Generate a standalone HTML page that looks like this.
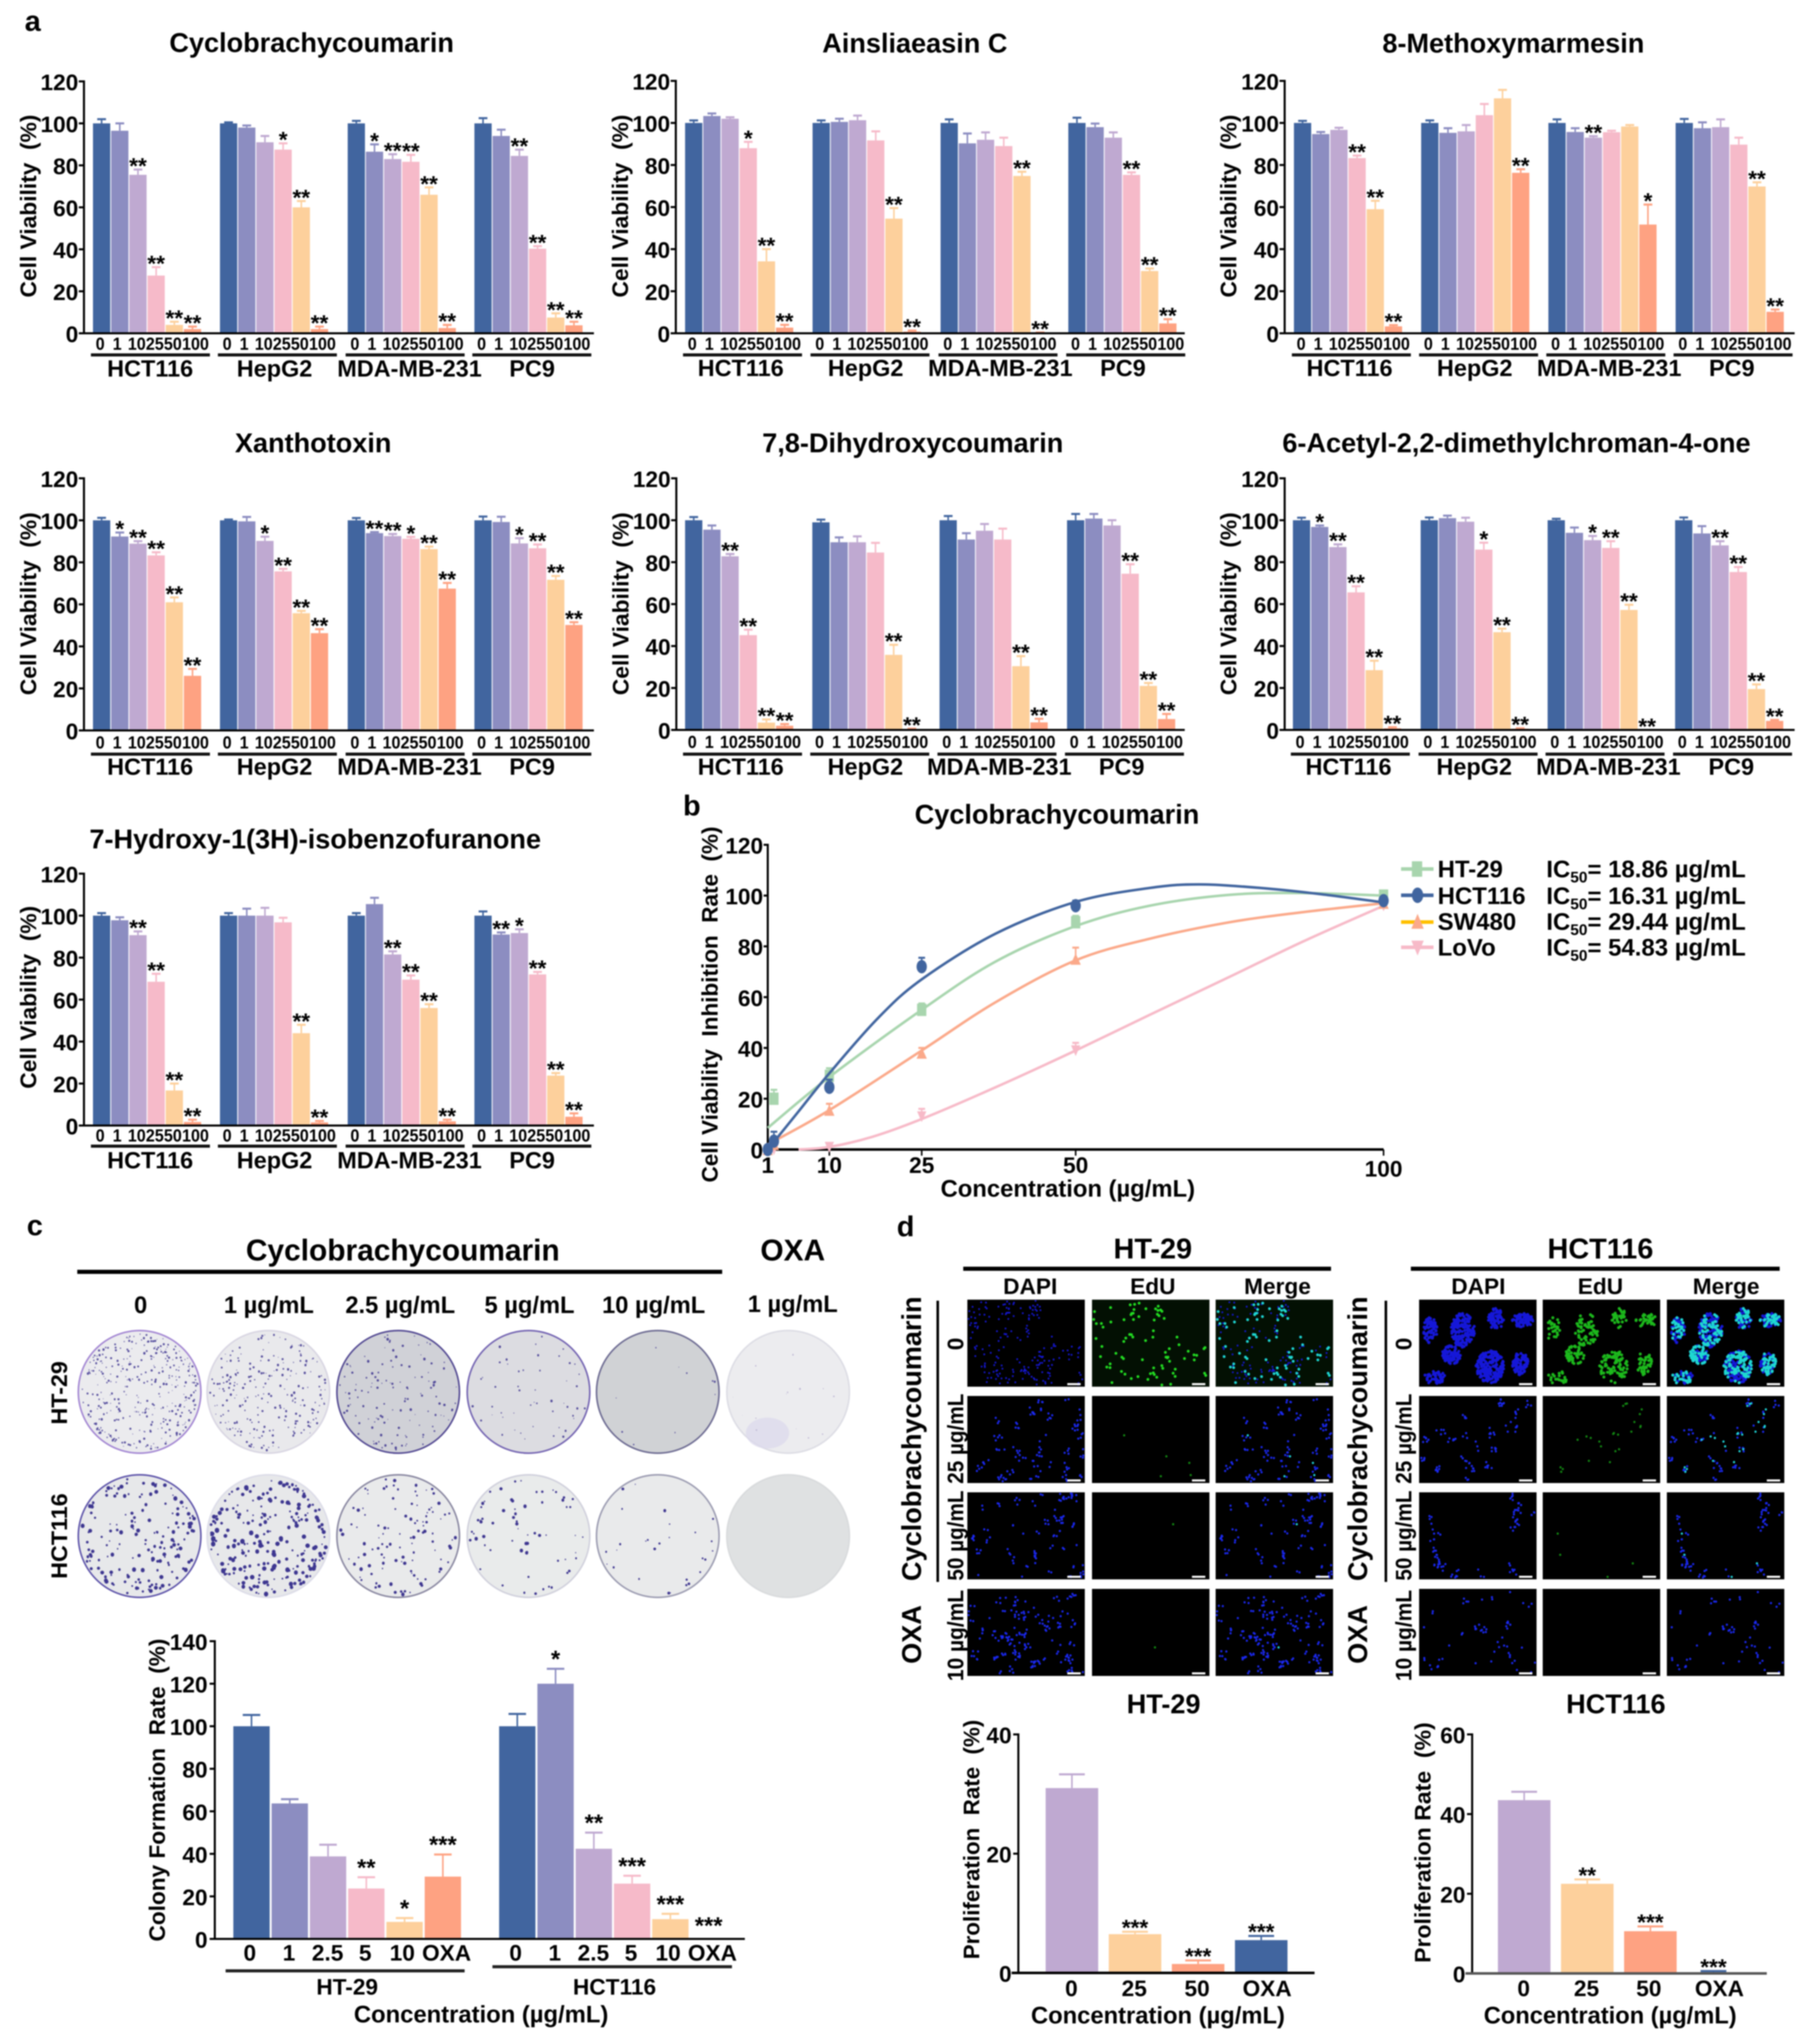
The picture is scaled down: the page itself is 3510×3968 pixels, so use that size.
<!DOCTYPE html>
<html lang="en">
<head>
<meta charset="utf-8">
<title>Cyclobrachycoumarin figure</title>
<style>
html,body{margin:0;padding:0;background:#fff;}
#figure{display:block;filter:blur(1.2px);}
text{font-family:"Liberation Sans",Arial,sans-serif;font-weight:bold;fill:#000;}
.letter{font-size:56px;}
.title{font-size:52.6px;text-anchor:middle;}
.title58{font-size:58px;text-anchor:middle;}
.title56{font-size:56px;text-anchor:middle;}
.axt{font-size:44px;text-anchor:middle;white-space:pre;}
.lab46{font-size:46.5px;}
.mid46{font-size:46px;text-anchor:middle;}
.mid44{font-size:44px;text-anchor:middle;}
.sub{font-size:30px;}
</style>
</head>
<body>
<svg id="figure" xmlns="http://www.w3.org/2000/svg" width="3510" height="3968" viewBox="0 0 3510 3968">
<rect width="3510" height="3968" fill="#fff"/>

<text class="letter" x="48" y="60">a</text>
<text class="letter" x="1326" y="1583">b</text>
<text class="letter" x="52" y="2398">c</text>
<text class="letter" x="1741" y="2400">d</text>

<text class="title" x="605" y="101">Cyclobrachycoumarin</text>
<text class="title" x="1776" y="102">Ainsliaeasin C</text>
<text class="title" x="2938" y="102">8-Methoxymarmesin</text>
<text class="title" x="608" y="878">Xanthotoxin</text>
<text class="title" x="1772" y="878">7,8-Dihydroxycoumarin</text>
<text class="title" x="2944" y="878">6-Acetyl-2,2-dimethylchroman-4-one</text>
<text class="title" x="612" y="1647">7-Hydroxy-1(3H)-isobenzofuranone</text>

<text class="axt" transform="rotate(-90 70 400)" x="70" y="400" textLength="355" lengthAdjust="spacingAndGlyphs">Cell Viability  (%)</text>
<text class="axt" transform="rotate(-90 1219 400)" x="1219" y="400" textLength="355" lengthAdjust="spacingAndGlyphs">Cell Viability  (%)</text>
<text class="axt" transform="rotate(-90 2400 400)" x="2400" y="400" textLength="355" lengthAdjust="spacingAndGlyphs">Cell Viability  (%)</text>
<text class="axt" transform="rotate(-90 70 1172)" x="70" y="1172" textLength="355" lengthAdjust="spacingAndGlyphs">Cell Viability  (%)</text>
<text class="axt" transform="rotate(-90 1220 1172)" x="1220" y="1172" textLength="355" lengthAdjust="spacingAndGlyphs">Cell Viability  (%)</text>
<text class="axt" transform="rotate(-90 2400 1172)" x="2400" y="1172" textLength="355" lengthAdjust="spacingAndGlyphs">Cell Viability  (%)</text>
<text class="axt" transform="rotate(-90 70 1936)" x="70" y="1936" textLength="355" lengthAdjust="spacingAndGlyphs">Cell Viability  (%)</text>

<g id="viability-charts"></g>

<text class="title" x="2052" y="1599">Cyclobrachycoumarin</text>
<text class="axt" transform="rotate(-90 1393 1950)" x="1393" y="1950" textLength="691" lengthAdjust="spacingAndGlyphs">Cell Viability  Inhibition  Rate  (%)</text>
<text class="mid46" x="2073" y="2323" textLength="494" lengthAdjust="spacingAndGlyphs">Concentration (µg/mL)</text>
<g id="curve-chart"></g>

<g>
<line x1="2720" y1="1687" x2="2783" y2="1687" stroke="#a8d5ae" stroke-width="7"/>
<rect x="2741" y="1672" width="20" height="30" fill="#a8d5ae"/>
<line x1="2720" y1="1738" x2="2783" y2="1738" stroke="#41659f" stroke-width="7"/>
<ellipse cx="2752" cy="1738" rx="11" ry="15" fill="#41659f"/>
<line x1="2720" y1="1790" x2="2783" y2="1790" stroke="#ffc000" stroke-width="7"/>
<polygon points="2752,1774 2764,1803 2740,1803" fill="#fba98a"/>
<line x1="2720" y1="1839" x2="2783" y2="1839" stroke="#f7bac8" stroke-width="7"/>
<polygon points="2740,1826 2764,1826 2752,1855" fill="#f7bac8"/>
<text class="lab46" x="2791" y="1703">HT-29</text>
<text class="lab46" x="2791" y="1755">HCT116</text>
<text class="lab46" x="2791" y="1805">SW480</text>
<text class="lab46" x="2791" y="1855">LoVo</text>
<text class="lab46" x="3002" y="1703">IC<tspan class="sub" dy="10">50</tspan><tspan dy="-10">= 18.86 µg/mL</tspan></text>
<text class="lab46" x="3002" y="1755">IC<tspan class="sub" dy="10">50</tspan><tspan dy="-10">= 16.31 µg/mL</tspan></text>
<text class="lab46" x="3002" y="1805">IC<tspan class="sub" dy="10">50</tspan><tspan dy="-10">= 29.44 µg/mL</tspan></text>
<text class="lab46" x="3002" y="1855">IC<tspan class="sub" dy="10">50</tspan><tspan dy="-10">= 54.83 µg/mL</tspan></text>
</g>

<text class="title58" x="782" y="2447">Cyclobrachycoumarin</text>
<rect x="150" y="2465" width="1252" height="8" fill="#000"/>
<text class="title58" x="1539" y="2447">OXA</text>
<text class="mid46" x="273" y="2549">0</text>
<text class="mid46" x="522" y="2549">1 µg/mL</text>
<text class="mid46" x="777" y="2549">2.5 µg/mL</text>
<text class="mid46" x="1028" y="2549">5 µg/mL</text>
<text class="mid46" x="1269" y="2549">10 µg/mL</text>
<text class="mid46" x="1539" y="2547">1 µg/mL</text>
<text class="axt" transform="rotate(-90 130 2704)" x="130" y="2704" textLength="123" lengthAdjust="spacingAndGlyphs">HT-29</text>
<text class="axt" transform="rotate(-90 130 2982)" x="130" y="2982" textLength="166" lengthAdjust="spacingAndGlyphs">HCT116</text>
<g id="colony-plates"></g>

<text class="axt" transform="rotate(-90 320 3475)" x="320" y="3475" textLength="588" lengthAdjust="spacingAndGlyphs">Colony Formation  Rate  (%)</text>
<text class="mid46" x="934" y="3926" textLength="494" lengthAdjust="spacingAndGlyphs">Concentration (µg/mL)</text>
<g id="colony-chart"></g>

<text class="title56" x="2238" y="2443">HT-29</text>
<text class="title56" x="3107" y="2443">HCT116</text>
<rect x="1870" y="2459" width="714" height="8" fill="#000"/>
<rect x="2739" y="2459" width="716" height="8" fill="#000"/>
<text class="mid44" x="2000" y="2512">DAPI</text>
<text class="mid44" x="2238" y="2512">EdU</text>
<text class="mid44" x="2480" y="2512">Merge</text>
<text class="mid44" x="2870" y="2512">DAPI</text>
<text class="mid44" x="3107" y="2512">EdU</text>
<text class="mid44" x="3351" y="2512">Merge</text>
<rect x="1818" y="2525" width="5" height="546" fill="#000"/>
<rect x="2688" y="2525" width="5" height="546" fill="#000"/>
<text class="title" transform="rotate(-90 1788 2793)" x="1788" y="2793">Cyclobrachycoumarin</text>
<text class="title" transform="rotate(-90 2654 2793)" x="2654" y="2793">Cyclobrachycoumarin</text>
<text class="title" transform="rotate(-90 1788 3173)" x="1788" y="3173">OXA</text>
<text class="title" transform="rotate(-90 2654 3173)" x="2654" y="3173">OXA</text>
<text class="mid44" transform="rotate(-90 1870 2609)" x="1870" y="2609">0</text>
<text class="mid44" transform="rotate(-90 1870 2793)" x="1870" y="2793" textLength="175" lengthAdjust="spacingAndGlyphs">25 µg/mL</text>
<text class="mid44" transform="rotate(-90 1870 2981)" x="1870" y="2981" textLength="175" lengthAdjust="spacingAndGlyphs">50 µg/mL</text>
<text class="mid44" transform="rotate(-90 1870 3175)" x="1870" y="3175" textLength="177" lengthAdjust="spacingAndGlyphs">10 µg/mL</text>
<text class="mid44" transform="rotate(-90 2740 2609)" x="2740" y="2609">0</text>
<text class="mid44" transform="rotate(-90 2740 2793)" x="2740" y="2793" textLength="175" lengthAdjust="spacingAndGlyphs">25 µg/mL</text>
<text class="mid44" transform="rotate(-90 2740 2981)" x="2740" y="2981" textLength="175" lengthAdjust="spacingAndGlyphs">50 µg/mL</text>
<text class="mid44" transform="rotate(-90 2740 3175)" x="2740" y="3175" textLength="177" lengthAdjust="spacingAndGlyphs">10 µg/mL</text>
<g id="microscopy"></g>

<text class="title" x="2259" y="3326">HT-29</text>
<text class="title" x="3137" y="3326">HCT116</text>
<text class="axt" transform="rotate(-90 1901 3571)" x="1901" y="3571" textLength="465" lengthAdjust="spacingAndGlyphs">Proliferation  Rate  (%)</text>
<text class="axt" transform="rotate(-90 2777 3577)" x="2777" y="3577" textLength="467" lengthAdjust="spacingAndGlyphs">Proliferation Rate  (%)</text>
<text class="mid46" x="2248" y="3928" textLength="493" lengthAdjust="spacingAndGlyphs">Concentration (µg/mL)</text>
<text class="mid46" x="3126" y="3928" textLength="491" lengthAdjust="spacingAndGlyphs">Concentration (µg/mL)</text>
<g id="proliferation-charts"></g>
</svg>

<script>
/* ---------- shared categories ---------- */
const doseLabels = ['0','1','10','25','50','100'];
const cellLines = ['HCT116','HepG2','MDA-MB-231','PC9'];
const viabilityTicks = [0,20,40,60,80,100,120];
const barColors = ['#41659f','#8c8dc1','#bfa9d1','#f6bac9','#fdd09c','#fea282'];

/* ---------- panel a: values per cell line (six doses each) ---------- */
const cycloValues = [[100,96.5,75.5,27.5,4,2],[100,98,91,87.5,60,2],[100,86.5,83,81.7,66,2.5],[100,94,84.5,40.3,7.5,3.8]];
const cycloUpper = [[102,100,78,31.5,5.5,3.2],[100.5,99,94,90.5,63,3.2],[101.2,90,85.3,85,69.5,4],[102.5,97,87.5,41.5,9.5,5.5]];
const cycloStars = [['','','**','**','**','**'],['','','','*','**','**'],['','*','**','**','**','**'],['','','**','**','**','**']];

const ainsValues = [[100,103.3,102,88,34.2,2.7],[100,100.5,101.3,91.7,54.5,0.8],[100,90.3,92,89,74.8,0.3],[100,98,93,75.3,29.6,4.7]];
const ainsUpper = [[101.2,104.5,102.7,91,40,4],[101.2,102,103.5,96,59.5,1.3],[101.7,95,95.5,93,76.8,0.4],[102.5,99.7,95.5,76.5,30.8,6.7]];
const ainsStars = [['','','','*','**','**'],['','','','','**','**'],['','','','','**','**'],['','','','**','**','**']];

const methoxyValues = [[100,94.7,96.7,83.3,59,3.3],[100,95.3,96,103.7,111.7,76.3],[100,95.7,93,95.6,98.3,51.7],[100,97.5,98,89.7,69.8,10.2]];
const methoxyUpper = [[101,95.7,97.7,84.5,63,3.9],[101.2,97.5,99,109,115.7,78],[101.7,97.5,93.7,96.3,99,61.2],[101.9,100.3,101.7,93,71.8,11.3]];
const methoxyStars = [['','','','**','**','**'],['','','','','','**'],['','','**','','','*'],['','','','','**','**']];

const xanthoValues = [[100,92.3,88.9,83.3,61,26],[100,99.5,90.2,75.7,55.8,46.3],[100,93.9,92.5,91.2,86.3,67.5],[100,99.2,89,86.7,71.7,50.2]];
const xanthoUpper = [[101.2,94.2,90.1,84.8,63.3,29.3],[100.4,101.6,92.2,76.9,56.9,48.2],[101.1,94.4,93.5,92.1,87.5,70.2],[101.8,101.7,91.5,88.5,73.5,51.5]];
const xanthoStars = [['','*','**','**','**','**'],['','','*','**','**','**'],['','**','**','*','**','**'],['','','*','**','**','**']];

const dihydroxyValues = [[100,95.5,82.8,45.2,3.5,2],[99,89.5,89.5,84.6,35.8,0.4],[100,90.8,95,90.8,30.4,3.6],[100,100.8,97.5,74.5,21,5.2]];
const dihydroxyUpper = [[101.5,97.5,83.9,47.8,5,2.8],[100.3,91.8,92.3,89.2,40.6,0.6],[102,93.8,98.2,96,35.2,5.3],[103,103,100,79,22.4,7.6]];
const dihydroxyStars = [['','','**','**','**','**'],['','','','','**','**'],['','','','','**','**'],['','','','**','**','**']];

const acetylValues = [[100,96.8,87.2,65.6,28.5,0.8],[100,101,99.3,86,46.6,0.6],[100,94,90.5,86.8,57.2,0],[100,93.7,88,75.3,19.5,4.3]];
const acetylUpper = [[101.2,97.5,88.5,68.5,33,1.3],[101.3,102.2,101.2,89.3,48.3,0.8],[100.7,96.5,92.5,90,59.7,0],[101.3,97.2,90,77.7,21.7,4.8]];
const acetylStars = [['','*','**','**','**','**'],['','','','*','**','**'],['','','*','**','**','**'],['','','**','**','**','**']];

const hydroxyValues = [[100,97.8,90.7,68.5,16.7,1.7],[100,100,100,96.8,44,1.5],[100,105.5,81.5,69.5,56,2],[100,91,91.7,72,23.8,4.2]];
const hydroxyUpper = [[101.2,99.2,92.5,72.3,20,2.8],[101.2,103.3,103.7,99,48,2.2],[101.2,108.5,83,71.5,57.8,2.8],[102,92,93.5,73.2,25,5.8]];
const hydroxyStars = [['','','**','**','**','**'],['','','','','**','**'],['','','**','**','**','**'],['','**','*','**','**','**']];

/* ---------- panel b ---------- */
const curveTicks = [0,20,40,60,80,100,120];
const curveXTickValues = [0,10,25,50,100];
const curveXTickLabels = ['1','10','25','50','100'];
const ht29Doses = [1,10,25,50,100];
const ht29Means = [20,29,55,89.5,100];
const ht29Upper = [23.5,32,57.5,92,101.5];
const ht29FitX = [0,10,25,37,50,62,75,87,100];
const ht29FitY = [8.5,28.5,55,74,88,96,100.3,101,100];
const hct116Doses = [0,1,10,25,50,100];
const hct116Means = [0,3.3,24.5,72,96,98];
const hct116Upper = [0,7,27.5,75.5,98,99.5];
const hct116FitX = [0,5,10,18,25,37,50,62,70,80,90,100];
const hct116FitY = [0,15,30,52,67,85,97.5,103,104.4,103,100.5,97.3];
const sw480Doses = [0,1,10,25,50,100];
const sw480Means = [0,2,15.5,38,75,97];
const sw480Upper = [0,3,18,40,79.5,97.5];
const sw480FitX = [0,10,25,37,50,62,75,87,100];
const sw480FitY = [2,15.5,39,58,74.5,83,89.5,93.5,97];
const lovoDoses = [1,10,25,50,100];
const lovoMeans = [0,1,13,39,96];
const lovoUpper = [1,2,16,42,96.5];
const lovoFitX = [5,10,17,25,37,50,62,75,87,100];
const lovoFitY = [0,1,5,12,24.5,39,53,68,82,96];

/* ---------- panel c bars ---------- */
const colonyTicks = [0,20,40,60,80,100,120,140];
const colonyDoseLabels = ['0','1','2.5','5','10','OXA'];
const colonyGroups = ['HT-29','HCT116'];
const colonyValues = [[100,63.7,38.8,23.7,8,29.3],[100,120,42.4,26,9.3,0]];
const colonyUpper = [[105.3,65.7,44.3,29,9.8,39.7],[105.8,127,50,29.7,11.8,0]];
const colonyStars = [['','','','**','*','***'],['','*','**','***','***','***']];

/* ---------- panel d bars ---------- */
const proliferationLabels = ['0','25','50','OXA'];
const proliferationColors = ['#bfa9d1','#fdd09c','#fea282','#41659f'];
const prolifHt29Ticks = [0,20,40];
const prolifHt29Values = [31,6.5,1.5,5.5];
const prolifHt29Upper = [33.3,6.9,2.1,6.2];
const prolifHt29Stars = ['','***','***','***'];
const prolifHct116Ticks = [0,20,40,60];
const prolifHct116Values = [43.5,22.5,10.6,0.3];
const prolifHct116Upper = [45.6,23.6,11.8,0.6];
const prolifHct116Stars = ['','**','***','***'];

/* ---------- helpers ---------- */
const NS = 'http://www.w3.org/2000/svg';
function add(parent, tag, attrs, name) {
  const el = document.createElementNS(NS, tag);
  for (const k in attrs) el.setAttribute(k, attrs[k]);
  
  
  parent.appendChild(el);
  return el;
}
function label(parent, str, x, y, size, anchor, name, fitWidth) {
  const attrs = {x: x, y: y, 'font-size': size, 'text-anchor': anchor};
  if (fitWidth) {
    attrs.textLength = fitWidth;
    attrs.lengthAdjust = 'spacingAndGlyphs';
  }
  const el = add(parent, 'text', attrs, name);
  el.textContent = str;
  return el;
}
function linearScale(d0, d1, r0, r1) {
  return function (v) { return r0 + (v - d0) * (r1 - r0) / (d1 - d0); };
}
function errorBar(parent, cx, yTop, yBase, cap, color, name, sw) {
  const stem = add(parent, 'line', {x1: cx, x2: cx, y1: yBase, y2: yTop, stroke: color, 'stroke-width': sw}, name + '-stem');
  const top = add(parent, 'line', {x1: cx - cap / 2, x2: cx + cap / 2, y1: yTop, y2: yTop, stroke: color, 'stroke-width': sw + 1}, name + '-cap');
  return [stem, top];
}
function yAxis(parent, x, yScale, ticks, tickLen, topVal, bottomVal, gap) {
  add(parent, 'line', {x1: x, x2: x, y1: yScale(topVal) - 2, y2: yScale(bottomVal), stroke: '#000', 'stroke-width': 4}, 'y-axis-line');
  ticks.forEach(function (t) {
    add(parent, 'line', {x1: x - tickLen, x2: x, y1: yScale(t), y2: yScale(t), stroke: '#000', 'stroke-width': 4}, 'y-axis-tick');
    label(parent, String(t), x - gap, yScale(t) + 17, 44, 'end', 'y-tick-label');
  });
}

/* ---------- panel a ---------- */
const viabilityCharts = [
  {name:'cyclobrachycoumarin', values:cycloValues, upper:cycloUpper, stars:cycloStars, ax:163, y0:647, yTop:158, starts:[180.5,427,675,921], xEnd:1153, tickDy:32, ruleDy:42, labelDy:84, rel:[111,106,120,112]},
  {name:'ainsliaeasin-c', values:ainsValues, upper:ainsUpper, stars:ainsStars, ax:1312, y0:647, yTop:157, starts:[1330,1577.5,1826,2074], xEnd:2300, tickDy:32, ruleDy:42, labelDy:83, rel:[108,103,116,106]},
  {name:'8-methoxymarmesin', values:methoxyValues, upper:methoxyUpper, stars:methoxyStars, ax:2494, y0:647, yTop:157, starts:[2512,2759,3006,3253], xEnd:3484, tickDy:32, ruleDy:42, labelDy:83, rel:[108,104,118,109]},
  {name:'xanthotoxin', values:xanthoValues, upper:xanthoUpper, stars:xanthoStars, ax:163, y0:1418, yTop:928.5, starts:[180.5,427,675,921], xEnd:1153, tickDy:35, ruleDy:46, labelDy:86, rel:[111,106,120,112]},
  {name:'7-8-dihydroxycoumarin', values:dihydroxyValues, upper:dihydroxyUpper, stars:dihydroxyStars, ax:1313, y0:1417, yTop:928.5, starts:[1330,1577,1824,2071.5], xEnd:2300, tickDy:35, ruleDy:47, labelDy:87, rel:[108,103,116,106]},
  {name:'6-acetyl-chromanone', values:acetylValues, upper:acetylUpper, stars:acetylStars, ax:2494, y0:1417, yTop:928.5, starts:[2510,2758,3004.5,3252], xEnd:3484, tickDy:35, ruleDy:47, labelDy:87, rel:[108,104,118,109]},
  {name:'7-hydroxy-isobenzofuranone', values:hydroxyValues, upper:hydroxyUpper, stars:hydroxyStars, ax:163, y0:2185, yTop:1696, starts:[180.5,427,675,921], xEnd:1153, tickDy:31, ruleDy:40, labelDy:83, rel:[111,106,120,112]}
];
const viabilityTickOffsets = [14,47,85,120,155,199];
const viabilityRoot = document.getElementById('viability-charts');
viabilityCharts.forEach(function (c) {
  const g = add(viabilityRoot, 'g', {}, 'chart-' + c.name);
  const y = linearScale(0, 120, c.y0, c.yTop);
  c.starts.forEach(function (start, gi) {
    const group = add(g, 'g', {}, 'bar-group-' + cellLines[gi].toLowerCase());
    c.values[gi].forEach(function (v, i) {
      const bx = start + i * 35.3, cx = bx + 16.75, color = barColors[i];
      errorBar(group, cx, y(c.upper[gi][i]), y(v), 17, color, 'error-bar', 3);
      add(group, 'rect', {x: bx, y: y(v), width: 33.5, height: c.y0 - y(v), fill: color}, 'bar-dose-' + doseLabels[i]);
      if (c.stars[gi][i]) label(group, c.stars[gi][i], cx, y(c.upper[gi][i]) + 8, 44, 'middle', 'significance-stars');
      label(group, doseLabels[i], start + viabilityTickOffsets[i], c.y0 + c.tickDy, 34, 'middle', 'x-tick-label', doseLabels[i].length * 17.4);
    });
    add(group, 'rect', {x: start - 4, y: c.y0 + c.ruleDy - 3, width: 231, height: 6, fill: '#111'}, 'cell-line-rule');
    label(group, cellLines[gi], start + c.rel[gi], c.y0 + c.labelDy, 45.5, 'middle', 'cell-line-label');
  });
  yAxis(g, c.ax, y, viabilityTicks, 10, 120, 0, 11);
  add(g, 'line', {x1: c.ax - 10, x2: c.xEnd, y1: c.y0, y2: c.y0, stroke: '#000', 'stroke-width': 4}, 'x-axis-line');
});

/* ---------- panel b ---------- */
const curveRoot = document.getElementById('curve-chart');
const curveX = linearScale(0, 100, 1490.5, 2686);
const curveY = linearScale(0, 120, 2231.5, 1640);
function smoothPath(xs, ys) {
  const pts = xs.map(function (v, i) { return [curveX(v), curveY(ys[i])]; });
  let d = 'M' + pts[0][0].toFixed(1) + ' ' + pts[0][1].toFixed(1);
  for (let i = 0; i < pts.length - 1; i++) {
    const p0 = pts[Math.max(i - 1, 0)], p1 = pts[i], p2 = pts[i + 1], p3 = pts[Math.min(i + 2, pts.length - 1)];
    d += 'C' + (p1[0] + (p2[0] - p0[0]) / 6).toFixed(1) + ' ' + (p1[1] + (p2[1] - p0[1]) / 6).toFixed(1) + ' ' +
      (p2[0] - (p3[0] - p1[0]) / 6).toFixed(1) + ' ' + (p2[1] - (p3[1] - p1[1]) / 6).toFixed(1) + ' ' +
      p2[0].toFixed(1) + ' ' + p2[1].toFixed(1);
  }
  return d;
}
function marker(parent, kind, x, y, color) {
  if (kind === 'square') add(parent, 'rect', {x: x - 9, y: y - 12, width: 18, height: 24, fill: color}, 'point-ht-29');
  if (kind === 'circle') add(parent, 'ellipse', {cx: x, cy: y, rx: 10, ry: 13, fill: color}, 'point-hct116');
  if (kind === 'up') add(parent, 'polygon', {points: (x - 10) + ',' + (y + 11) + ' ' + (x + 10) + ',' + (y + 11) + ' ' + x + ',' + (y - 11), fill: color}, 'point-sw480');
  if (kind === 'down') add(parent, 'polygon', {points: (x - 9) + ',' + (y - 10) + ' ' + (x + 9) + ',' + (y - 10) + ' ' + x + ',' + (y + 11), fill: color}, 'point-lovo');
}
const curveSeries = [
  {name:'lovo', kind:'down', color:'#f7bac8', doses:lovoDoses, means:lovoMeans, upper:lovoUpper, fitX:lovoFitX, fitY:lovoFitY},
  {name:'sw480', kind:'up', color:'#fba98a', doses:sw480Doses, means:sw480Means, upper:sw480Upper, fitX:sw480FitX, fitY:sw480FitY},
  {name:'ht-29', kind:'square', color:'#a8d5ae', doses:ht29Doses, means:ht29Means, upper:ht29Upper, fitX:ht29FitX, fitY:ht29FitY},
  {name:'hct116', kind:'circle', color:'#41659f', doses:hct116Doses, means:hct116Means, upper:hct116Upper, fitX:hct116FitX, fitY:hct116FitY}
];
add(curveRoot, 'line', {x1: curveX(0), x2: curveX(100), y1: curveY(0), y2: curveY(0), stroke: '#000', 'stroke-width': 5}, 'x-axis-line');
curveXTickValues.forEach(function (t, i) {
  add(curveRoot, 'line', {x1: curveX(t), x2: curveX(t), y1: curveY(0), y2: curveY(0) + 12, stroke: '#000', 'stroke-width': 3}, 'x-axis-tick');
  label(curveRoot, curveXTickLabels[i], curveX(t), t === 100 ? 2284 : 2277, 44, 'middle', 'x-tick-label');
});
yAxis(curveRoot, curveX(0), curveY, curveTicks, 8, 120, 0, 9);
curveSeries.forEach(function (s) {
  const g = add(curveRoot, 'g', {}, 'series-' + s.name);
  add(g, 'path', {d: smoothPath(s.fitX, s.fitY), fill: 'none', stroke: s.color, 'stroke-width': 5}, 'fit-curve-' + s.name);
  s.doses.forEach(function (d, i) {
    errorBar(g, curveX(d), curveY(s.upper[i]), curveY(s.means[i]), 13, s.color, 'error-bar', 3);
    marker(g, s.kind, curveX(d), curveY(s.means[i]), s.color);
  });
});

/* ---------- panel c bar chart ---------- */
const colonyRoot = document.getElementById('colony-chart');
const colonyY = linearScale(0, 140, 3764, 3186);
const colonyStarts = [453, 969];
const colonyTickOffsets = [32,108,183,256,328,414];
const colonyRuleX = [[438,902],[956,1421]];
const colonyRuleY = [3826,3818];
const colonyLabelX = [674,1193];
colonyGroups.forEach(function (name, gi) {
  const g = add(colonyRoot, 'g', {}, 'bar-group-' + name.toLowerCase());
  colonyValues[gi].forEach(function (v, i) {
    const bx = colonyStarts[gi] + i * 74.3, cx = bx + 35.25, color = barColors[i];
    if (v > 0) {
      errorBar(g, cx, colonyY(colonyUpper[gi][i]), colonyY(v), 34, color, 'error-bar', 3);
      add(g, 'rect', {x: bx, y: colonyY(v), width: 70.5, height: 3764 - colonyY(v), fill: color}, 'bar-dose-' + colonyDoseLabels[i]);
    }
    if (colonyStars[gi][i]) label(g, colonyStars[gi][i], cx, colonyY(colonyUpper[gi][i]) + (v > 0 ? -3 : -10), 46, 'middle', 'significance-stars');
    label(g, colonyDoseLabels[i], colonyStarts[gi] + colonyTickOffsets[i], 3806, 44, 'middle', 'x-tick-label');
  });
  add(g, 'rect', {x: colonyRuleX[gi][0], y: colonyRuleY[gi] - 3, width: colonyRuleX[gi][1] - colonyRuleX[gi][0], height: 6, fill: '#222'}, 'group-rule');
  label(g, name, colonyLabelX[gi], 3872, 44, 'middle', 'group-label');
});
yAxis(colonyRoot, 417, colonyY, colonyTicks, 10, 140, 0, 14);
add(colonyRoot, 'line', {x1: 407, x2: 1446, y1: 3764, y2: 3764, stroke: '#000', 'stroke-width': 4}, 'x-axis-line');

/* ---------- panel d bar charts ---------- */
const proliferationRoot = document.getElementById('proliferation-charts');
const proliferationCharts = [
  {name:'ht-29', values:prolifHt29Values, upper:prolifHt29Upper, stars:prolifHt29Stars, ticks:prolifHt29Ticks, max:40, ax:1977, y0:3830, yTop:3367, bar0:2030, xEnd:2552, axisColor:'#000', labelX:[2080,2202,2324,2460]},
  {name:'hct116', values:prolifHct116Values, upper:prolifHct116Upper, stars:prolifHct116Stars, ticks:prolifHct116Ticks, max:60, ax:2858, y0:3831, yTop:3367, bar0:2908, xEnd:3430, axisColor:'#555', labelX:[2958,3080,3201,3338]}
];
proliferationCharts.forEach(function (c) {
  const g = add(proliferationRoot, 'g', {}, 'proliferation-chart-' + c.name);
  const y = linearScale(0, c.max, c.y0, c.yTop);
  c.values.forEach(function (v, i) {
    const bx = c.bar0 + i * 122.5, cx = bx + 51, color = proliferationColors[i];
    errorBar(g, cx, y(c.upper[i]), y(v), 50, color, 'error-bar', 3);
    add(g, 'rect', {x: bx, y: y(v), width: 102, height: c.y0 - y(v), fill: color}, 'bar-dose-' + proliferationLabels[i]);
    if (c.stars[i]) label(g, c.stars[i], cx, y(c.upper[i]) + 7, 44, 'middle', 'significance-stars');
    label(g, proliferationLabels[i], c.labelX[i], 3875, 44, 'middle', 'x-tick-label');
  });
  yAxis(g, c.ax, y, c.ticks, 10, c.max, 0, 13);
  add(g, 'line', {x1: c.ax - 13, x2: c.xEnd, y1: c.y0, y2: c.y0, stroke: c.axisColor, 'stroke-width': 5}, 'x-axis-line');
});

/* ---------- photo textures (not chart data): seeded noise imitating plates and micrographs ---------- */
function seeded(seed) {
  let a = (seed * 2654435761) >>> 0;
  return function () {
    a = (a + 0x6D2B79F5) >>> 0;
    let t = a;
    t = Math.imul(t ^ (t >>> 15), t | 1);
    t ^= t + Math.imul(t ^ (t >>> 7), t | 61);
    return ((t ^ (t >>> 14)) >>> 0) / 4294967296;
  };
}
function dot(x, y, size) {
  const r = (size / 2).toFixed(1), w = size.toFixed(1);
  return 'M' + x.toFixed(1) + ' ' + (y + size / 2).toFixed(1) + 'a' + r + ' ' + r + ' 0 1 0 ' + w + ' 0a' + r + ' ' + r + ' 0 1 0 -' + w + ' 0z';
}
const plateRoot = document.getElementById('colony-plates');
const plateCx = [271,521,773,1026,1277,1530];
const plateCy = [2702,2982];
const plateFills = [['#ebebee','#e9e9ec','#d0d1d7','#dcdce1','#d0d2d5','#ececef'],['#e7e8ea','#e7e8ea','#e9eaeb','#e9ebeb','#e9eaeb','#dfe1e2']];
const plateRims = [['#a184d2','#d8d5e2','#4f4590','#7060b0','#6a6890','#dcdce4'],['#5a50a8','#dcdce8','#8886a0','#d0d0dc','#9a9ab0','#d8dadc']];
const plateSpeckCounts = [[360,240,130,50,10,14],[170,240,110,65,28,0]];
const plateSpeckSizes = [[2.8,2.8,3,2.8,2.2,2],[5,5.5,4.2,4.2,3.6,2]];
const plateRimBias = [[0.1,0.05,0.15,0.1,0.05,0],[0.25,0.2,0.15,0.2,0.3,0]];
plateFills.forEach(function (row, r) {
  row.forEach(function (fill, c) {
    const g = add(plateRoot, 'g', {}, 'colony-plate');
    add(g, 'circle', {cx: plateCx[c], cy: plateCy[r], r: 119, fill: fill, stroke: plateRims[r][c], 'stroke-width': 3}, 'plate-dish');
    if (r === 0 && c === 5) add(g, 'ellipse', {cx: plateCx[c] - 40, cy: plateCy[r] + 80, rx: 42, ry: 30, fill: '#dcd8ec', opacity: 0.7}, 'stain-smudge');
    const rng = seeded(31 * r + 7 * c + 11);
    let d = '';
    for (let i = 0; i < plateSpeckCounts[r][c]; i++) {
      const rim = rng() < plateRimBias[r][c];
      const rad = 114 * (rim ? 0.88 + rng() * 0.12 : Math.sqrt(rng()));
      const ang = rng() * Math.PI * 2;
      const size = plateSpeckSizes[r][c] * (0.5 + rng() * 1.1);
      d += dot(plateCx[c] + rad * Math.cos(ang) - size / 2, plateCy[r] + rad * Math.sin(ang) - size / 2, size);
    }
    if (d) add(g, 'path', {d: d, fill: r === 0 && c === 5 ? '#b0a8cc' : '#2f2688', opacity: r === 0 ? 0.8 : 0.92}, 'colony-specks');
  });
});

const microRoot = document.getElementById('microscopy');
const microY = [2523,2710,2897,3084.5];
const microColumns = [[1878,2120,2360],[2755,2995,3236]];
const microDapiCounts = [[230,130,120,190],[0,105,95,65]];
const microEduCounts = [[80,5,1,1],[0,24,4,0]];
const microClusterCounts = [[26,40,50,55],[0,20,14,40]];
const microSpread = [[24,10,8,10],[0,10,12,7]];
const hct116Blobs = [[0.36,0.33,0.1,0.2,170],[0.26,0.62,0.08,0.11,90],[0.59,0.75,0.12,0.19,190],[0.85,0.72,0.07,0.13,80],[0.64,0.2,0.07,0.12,70],[0.87,0.22,0.09,0.08,80],[0.08,0.33,0.06,0.15,70],[0.12,0.88,0.09,0.08,40]];
microY.forEach(function (top, r) {
  microColumns.forEach(function (cols, line) {
    const rng = seeded(97 * r + 13 * line + 5);
    const cells = [];
    const w = 228, h = 169;
    if (line === 1 && r === 0) {
      hct116Blobs.forEach(function (b) {
        for (let i = 0; i < b[4]; i++) {
          const a = rng() * Math.PI * 2, q = Math.sqrt(rng());
          cells.push([w * (b[0] + b[2] * q * Math.cos(a)), h * (b[1] + b[3] * q * Math.sin(a))]);
        }
      });
      for (let i = cells.length - 1; i > 0; i--) {
        const j = Math.floor(rng() * (i + 1)), t = cells[i];
        cells[i] = cells[j];
        cells[j] = t;
      }
    } else {
      const k = microClusterCounts[line][r], centers = [];
      for (let i = 0; i < k; i++) centers.push([rng() * w, rng() * h]);
      for (let i = 0; i < microDapiCounts[line][r]; i++) {
        const ctr = centers[Math.floor(rng() * k)], sp = microSpread[line][r];
        const x = ctr[0] + (rng() + rng() - 1) * sp, y = ctr[1] + (rng() + rng() - 1) * sp * 1.3;
        if (x > 0 && x < w - 5 && y > 0 && y < h - 5) cells.push([x, y]);
      }
    }
    const eduN = line === 1 && r === 0 ? Math.floor(cells.length * 0.45) : microEduCounts[line][r];
    const size = line === 1 && r === 0 ? 6 : (line === 0 && r === 0 ? 3.6 : 4.4);
    const eduSize = size + (r === 0 && line === 0 ? 2 : 0);
    cols.forEach(function (px, col) {
      const colName = ['dapi','edu','merge'][col];
      const g = add(microRoot, 'g', {}, 'micrograph-' + colName);
      add(g, 'rect', {x: px, y: top, width: w, height: h, fill: r === 0 && line === 0 && col > 0 ? '#031003' : '#000'}, 'micrograph-background');
      let blue = '', green = '';
      cells.forEach(function (c, i) {
        const cx = Math.min(Math.max(c[0], 0), w - size), cy = Math.min(Math.max(c[1], 0), h - size);
        if (col !== 1) blue += dot(px + cx, top + cy, size);
        if (col !== 0 && i < eduN) green += dot(px + cx, top + cy, eduSize);
      });
      if (blue) add(g, 'path', {d: blue, fill: r === 0 ? '#1517d8' : '#1a28f0'}, 'dapi-nuclei');
      if (green) add(g, 'path', {d: green, fill: col === 2 ? '#1ed8d0' : (r === 0 ? (line === 0 ? '#22dd22' : '#1cb81c') : '#128a12')}, 'edu-nuclei');
      add(g, 'rect', {x: px + w - 34, y: top + h - 7, width: 26, height: 4, fill: '#fff'}, 'scale-bar');
    });
  });
});
</script>
</body>
</html>
